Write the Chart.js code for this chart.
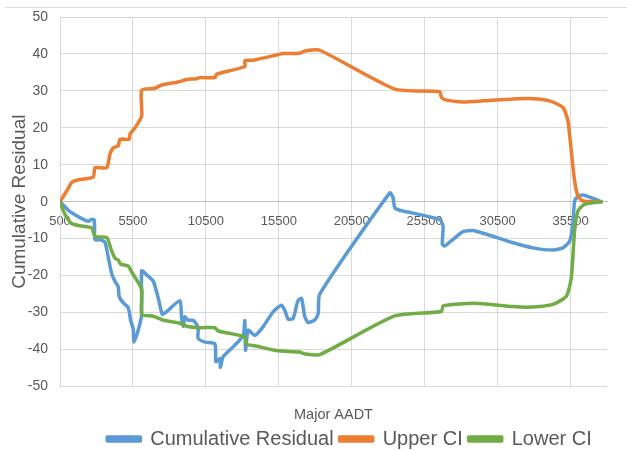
<!DOCTYPE html>
<html lang="en">
<head>
  <meta charset="UTF-8" />
  <title>Cumulative Residual</title>
  <script src="https://cdn.jsdelivr.net/npm/chart.js"></script>
  <style>
    body { margin: 0; background: #fff; }
    #wrap { width: 627px; height: 450px; }
  </style>
</head>
<body>
  <div id="wrap"><canvas id="cure"></canvas></div>

  <script>
    // values
    const xTicks = [500, 5500, 10500, 15500, 20500, 25500, 30500, 35500];
    const yTicks = [-50, -40, -30, -20, -10, 0, 10, 20, 30, 40, 50];

    const residX = [500, 1190, 1870, 2440, 2670, 2850, 2900, 3240, 3580, 3810, 4040, 4260, 4490, 4560, 4840, 5180, 5340, 5520, 5570, 5860, 6100, 6100, 6440, 6890, 7230, 7510, 7800, 8720, 8830, 8950, 9060, 9290, 9630, 9970, 9970, 10440, 11120, 11190, 11460, 11500, 11680, 12370, 13060, 13170, 13220, 13400, 13860, 14430, 15110, 15690, 15910, 16140, 16480, 16820, 17060, 17280, 17510, 17970, 18200, 18310, 23110, 23330, 23450, 23790, 26530, 26760, 26710, 26870, 27440, 28130, 28810, 29730, 31550, 32920, 34290, 34980, 35440, 35660, 35780, 36010, 36350, 37030, 37610];
    const residY = [0, -2.7, -4.3, -5.3, -4.8, -5.0, -10.3, -10.3, -11.0, -15.1, -19.4, -21.5, -23.0, -25.7, -27.4, -28.7, -32.1, -34.5, -38.0, -34.8, -30.5, -18.7, -19.8, -21.5, -26.0, -30.4, -29.8, -26.8, -31.2, -33.8, -31.2, -32.1, -32.1, -34.0, -37.0, -38.0, -38.5, -43.3, -42.5, -44.8, -42.0, -39.3, -36.2, -32.2, -40.2, -34.8, -36.2, -33.8, -29.8, -28.0, -29.4, -31.8, -31.6, -26.7, -26.2, -31.1, -32.7, -32.0, -30.3, -25.0, 2.4, 1.1, -1.6, -2.3, -4.8, -6.6, -11.5, -12.0, -10.2, -8.1, -7.8, -8.8, -11.1, -12.5, -13.1, -12.5, -10.7, -6.1, 0.2, 1.5, 1.8, 0.9, 0];

    const upperX = [500, 960, 1300, 1640, 2780, 2900, 3700, 3920, 4150, 4490, 4610, 5250, 5300, 5640, 6100, 6100, 7010, 7470, 8600, 9180, 9860, 10090, 11120, 11230, 13170, 13170, 13740, 15340, 15800, 16940, 17280, 18310, 23450, 26530, 26650, 26990, 28130, 29500, 31550, 32920, 34070, 34980, 35320, 35550, 35780, 36010, 36350, 37610];
    const upperY = [0, 2.9, 5.2, 5.8, 6.7, 9.2, 9.2, 12.8, 14.6, 15.1, 16.9, 16.9, 18.3, 20.0, 23.2, 30.2, 30.7, 31.6, 32.4, 33.1, 33.3, 33.6, 33.6, 34.5, 36.6, 38.2, 38.3, 39.7, 40.1, 40.2, 40.8, 41.0, 30.5, 29.8, 28.2, 27.5, 27.0, 27.3, 27.8, 27.9, 27.3, 25.5, 21.9, 13.7, 5.6, 1.5, 0.2, 0];

    const lowerX = [500, 840, 1300, 1870, 2670, 2900, 3700, 4040, 4270, 4490, 4660, 5180, 5410, 6100, 6100, 6890, 7580, 8720, 9180, 10090, 11120, 11340, 13170, 13290, 13860, 15340, 16940, 17280, 18310, 23450, 26650, 26760, 28130, 29500, 31550, 32920, 34290, 35210, 35550, 35780, 36010, 36460, 37610];
    const lowerY = [0, -3.4, -5.9, -6.5, -7.1, -9.4, -9.7, -13.3, -15.3, -15.8, -16.9, -17.4, -19.0, -23.7, -30.5, -31.0, -32.1, -32.9, -33.7, -34.1, -34.1, -35.0, -36.6, -38.6, -39.0, -40.3, -40.7, -41.2, -41.4, -30.9, -29.7, -28.2, -27.6, -27.6, -28.4, -28.5, -27.8, -25.6, -20.6, -7.9, -2.5, -0.7, 0];

    const toPoints = (xs, ys) => xs.map((x, i) => ({ x: x, y: ys[i] }));

    const gridColor = '#d9d9d9';
    const textColor = '#595959';
    const font = 'Liberation Sans, Arial, sans-serif';

    // thin frame line at the top of the picture
    const topRule = {
      id: 'topRule',
      beforeDraw(chart) {
        const c = chart.ctx;
        c.save();
        c.strokeStyle = '#dedede';
        c.lineWidth = 1;
        c.beginPath();
        c.moveTo(5, 7.5);
        c.lineTo(chart.width, 7.5);
        c.stroke();
        c.restore();
      }
    };

    // nudge the bottom title and legend to where Excel put them
    const nudge = {
      id: 'nudge',
      afterLayout(chart) {
        const lg = chart.legend;
        lg.left += 46; lg.right += 46;
        lg.top += 9; lg.bottom += 9;
        const t = chart.scales.x2;
        t.top += 10; t.bottom += 10;
      }
    };

    new Chart(document.getElementById('cure'), {
      type: 'line',
      data: {
        datasets: [
          { label: 'Cumulative Residual', data: toPoints(residX, residY), xAxisID: 'x', borderColor: '#5b9bd5', backgroundColor: '#5b9bd5', order: 3 },
          { label: 'Upper CI', data: toPoints(upperX, upperY), xAxisID: 'x', borderColor: '#ed7d31', backgroundColor: '#ed7d31', order: 2 },
          { label: 'Lower CI', data: toPoints(lowerX, lowerY), xAxisID: 'x', borderColor: '#70ad47', backgroundColor: '#70ad47', order: 1 }
        ]
      },
      options: {
        responsive: true,
        maintainAspectRatio: false,
        animation: false,
        layout: { padding: { top: 17, right: 20, left: 0, bottom: 0 } },
        elements: {
          line: { borderWidth: 3.5, tension: 0.2, borderCapStyle: 'round', borderJoinStyle: 'round' },
          point: { radius: 0 }
        },
        scales: {
          x: {
            type: 'linear',
            min: 500,
            max: 38000,
            position: { y: 0 },
            afterBuildTicks: s => { s.ticks = xTicks.map(v => ({ value: v })); },
            grid: { color: gridColor, drawTicks: false },
            border: { color: '#bfbfbf' },
            ticks: { color: textColor, padding: 12, maxRotation: 0, autoSkip: false, callback: v => v, font: { family: font, size: 13 } }
          },
          x2: {
            type: 'linear',
            position: 'bottom',
            grid: { display: false, drawTicks: false },
            border: { display: false },
            ticks: { display: false },
            title: { display: true, text: 'Major AADT', color: textColor, padding: { top: 10.2, bottom: 0 }, font: { family: font, size: 14.5 } }
          },
          y: {
            min: -50,
            max: 50,
            afterBuildTicks: s => { s.ticks = yTicks.map(v => ({ value: v })); },
            afterFit: s => { s.width = 60; s.paddingTop = 0; s.paddingBottom = 0; },
            grid: { color: gridColor, drawTicks: false },
            border: { color: gridColor },
            ticks: { color: textColor, padding: 12, font: { family: font, size: 14 } },
            title: { display: true, text: 'Cumulative Residual', color: textColor, padding: { top: 8, bottom: 0 }, font: { family: font, size: 19 } }
          }
        },
        plugins: {
          legend: {
            position: 'bottom',
            labels: {
              boxWidth: 33,
              boxHeight: 4,
              padding: 6,
              color: textColor,
              font: { family: font, size: 20 },
              sort: (a, b) => a.datasetIndex - b.datasetIndex
            }
          },
          tooltip: { enabled: false }
        }
      },
      plugins: [topRule, nudge]
    });
  </script>
</body>
</html>
